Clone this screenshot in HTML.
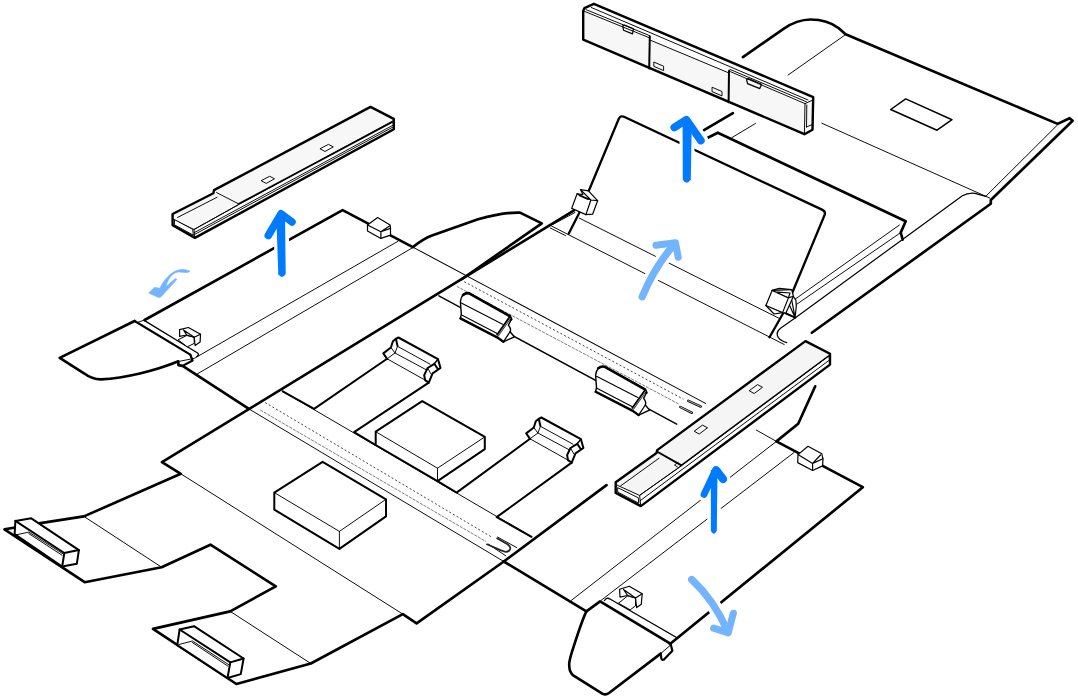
<!DOCTYPE html>
<html lang="en">
<head>
<meta charset="utf-8">
<title>Packaging illustration</title>
<style>
html,body{margin:0;padding:0;background:#fff;overflow:hidden}
svg{display:block}
.k{fill:none;stroke:#000;stroke-width:2.65;stroke-linejoin:round;stroke-linecap:round}
.kf{fill:#fff;stroke:#000;stroke-width:2.65;stroke-linejoin:round;stroke-linecap:round}
.m{fill:none;stroke:#000;stroke-width:1.5;stroke-linejoin:round;stroke-linecap:round}
.mf{fill:#fff;stroke:#000;stroke-width:1.5;stroke-linejoin:round;stroke-linecap:round}
.mg{fill:#f7f7f7;stroke:#000;stroke-width:1.5;stroke-linejoin:round;stroke-linecap:round}
.t{fill:none;stroke:#000;stroke-width:.95;stroke-linejoin:round;stroke-linecap:round}
.tf{fill:#fff;stroke:#000;stroke-width:.95;stroke-linejoin:round;stroke-linecap:round}
.tg{fill:#f7f7f7;stroke:#000;stroke-width:.95;stroke-linejoin:round;stroke-linecap:round}
.b{fill:none;stroke:#007aff;stroke-width:6.5;stroke-linejoin:round;stroke-linecap:round}
.lb{fill:none;stroke:#72b4ff;stroke-width:5;stroke-linejoin:round;stroke-linecap:round}
.h{fill:#fff;stroke:#000;stroke-width:2;stroke-linejoin:round;stroke-linecap:round}
.hl{fill:none;stroke:#000;stroke-width:2;stroke-linejoin:round;stroke-linecap:round}
.c{fill:#fff;stroke:#000;stroke-width:1.2;stroke-linejoin:round;stroke-linecap:round}
.cl{fill:none;stroke:#000;stroke-width:1.2;stroke-linejoin:round;stroke-linecap:round}
.d{fill:none;stroke:#3a3a3a;stroke-width:.95;stroke-dasharray:2 2.2}
.d2{fill:none;stroke:#666;stroke-width:.85;stroke-dasharray:3.2 1}
</style>
</head>
<body>
<svg width="1078" height="700" viewBox="0 0 1078 700">
<rect width="1078" height="700" fill="#fff"/>
<!--BAR1-->
<g id="bar1">
<path style="fill:#f7f7f7;stroke:none" d="M172.6 214 L213.4 193.3 L214 190.1 L370.5 106.9 L393.8 118.9 L393.8 129.2 L194.9 237.9 L172.6 225.3 Z"/>
<path class="tf" d="M393 121.2 L393.8 129.2 L194.9 237.9 L194 229.5 L237.9 205 Z"/>
<path d="M392.8 121.8 L237.9 204.3" style="stroke:#000;stroke-width:1.8;fill:none"/>
<path class="t" d="M393 125.2 L194.3 232.6"/>
<path class="t" d="M393 127 L194.3 234.6"/>
<path class="t" d="M216.6 192.6 L237.9 203.5"/>
<path class="t" d="M177.5 217.5 L217 197.3"/>
<path class="t" d="M172.6 219 L194 229.5 L237.9 205"/>
<path class="tf" d="M174.8 219.8 L192.6 229.3 L193.4 235.2 L174.8 225 Z"/>
<path class="tf" d="M320.3 148.6 L328.5 144.4 L333.3 146.9 L325.3 151.3 Z"/>
<path class="tf" d="M261.5 180.5 L269.7 176.3 L274.5 178.8 L266.5 183.2 Z"/>
<path class="k" style="fill:none;stroke-width:2.4" d="M172.6 214 L213.4 193.3 L214 190.1 L370.5 106.9 L393.8 118.9 L393.8 129.2 L194.9 237.9 L172.6 225.3 Z"/>
</g>
<!--/BAR1-->

<!--LEFTPANEL-->
<g id="leftpanel">
<path class="k" d="M134.6 321 L59.7 357.9 L84 373.3 Q92 379.5 101 379.4 C125 378 155 371 178.4 361.3 L178.4 365.1 L182.6 365.9 L248.9 408.9"/>
<path class="k" style="stroke-width:2.1" d="M134.6 321 L190.3 354.7"/>
<path class="k" style="stroke-width:2.2" d="M182.6 365.9 L192.6 360.5 L190.3 354.7"/>
<path class="k" d="M144.6 320 L342.6 210.1 L412.8 247.1 Q424 238.5 432 235.6 L478 219.2 Q505 212 520 212.6 L541.8 223.4 L462 279"/>
<path class="t" d="M138.4 322.1 L144.6 320"/>
<path class="m" style="stroke-width:1.3" d="M144.6 320.6 L197.6 353 Q199.6 354.6 196.7 356.7"/>
<path class="t" d="M180 361.2 L194.2 358.4 L397.7 241.4"/>
<path class="t" d="M196.7 374.3 L412.8 247.6"/>
</g>
<!--/LEFTPANEL-->
<!--CENTER-->
<g id="center">
<!-- main top-left edge and lower-left tabs outline -->
<path class="k" d="M573.7 210.6 L162 462.2 L180.8 473.8 L83.9 516.4 L38.8 523.4"/>
<path class="k" d="M15 527.5 L4.5 529.4 L84.7 582.2 L161.6 567.2 L210.4 544.7 L275.8 586.4 L230.2 611.4 L153 628.9 L236.4 684 L310.8 663.5 L402.8 614.1 L416.6 623.3 L503.8 561.5 L606.5 485.1"/>
<path class="t" d="M180.8 473.8 L402.8 614.1"/>
<path class="t" d="M83.9 516.4 L161.6 567.2"/>
<path class="t" d="M230.2 611.4 L310.8 663.5"/>
<!-- lower zipper strip -->
<path class="t" d="M248.9 408.9 L503.8 561.5"/>
<path class="t" d="M282.7 391.3 L531.5 536.8"/>
<path class="d" d="M265.2 402.6 L491.7 537.1"/>
<path class="d2" d="M260.2 410 L485.9 541.5"/>
<path class="t" d="M497.6 537.1 L516.8 547.6 M488.4 544.2 L505.9 555.9"/>
<path d="M497 538.3 L507.5 544.3 Q512 547.5 509.3 550.5 Q506.5 553 501.5 550.6 L487 544.3" style="fill:none;stroke:#222;stroke-width:1.7;stroke-linecap:round"/>

<!-- upper zipper strip -->
<path class="t" d="M412.8 247.1 L705.5 403.4" style="stroke-width:1.05"/>
<path class="m" d="M438.9 295.8 L676.7 424.2" style="stroke-width:1.4"/>
<path class="d" d="M464.2 281.7 L683.4 399.2"/>
<path class="d2" d="M456.7 286.3 L678.4 403.8"/>
<path d="M688.3 400.8 L700.8 406.6 M680.3 407 L692 412.8" style="fill:none;stroke:#000;stroke-width:2.4;stroke-linecap:round"/>
<path d="M688.3 400.8 L700.8 406.6 M680.3 407 L692 412.8" style="fill:none;stroke:#fff;stroke-width:.7;stroke-linecap:round"/>
<!-- straps -->
<path class="hl" d="M282.7 391.3 L314.1 408.9 L387.1 358.8"/>
<path class="hl" d="M428.8 382.6 L354.1 432.2 L375.7 445"/>
<path class="hl" d="M437.5 481.1 L456.6 492.6 L530 438.8"/>
<path class="hl" d="M571.7 462.6 L496.7 517.1 L531.5 536.8"/>
<!-- boxes -->
<path class="h" d="M322.6 461.8 L386 499.3 L386 516.4 L339.4 548.9 L274.3 509.6 L274.3 492.6 Z"/>
<path class="t" d="M274.3 492.6 L339.4 531.4 L386 499.3 M339.4 531.4 L339.4 548.9"/>
<path class="h" d="M422.2 401.1 L484.8 436.9 L484.8 449.1 L437.5 481.1 L375.7 445 L375.7 431.7 Z"/>
<path class="t" d="M375.7 431.7 L437.5 468.2 L484.8 436.9 M437.5 468.2 L437.5 481.1"/>
</g>
<!--/CENTER-->
<!--LOWRIGHT-->
<g id="lowright">
<path class="k" d="M503.8 561.5 L586.4 611.4 L600.1 601.4 L670.3 643.6"/>
<path class="k" d="M586.4 611.4 C582 620 576.5 638 572.1 651.4 C570 658 568.8 664 569.3 666.5 Q569.5 672.5 573.6 675.7 L602.3 693.6 Q605.7 695.4 609 693 L660.7 653.6"/>
<path class="k" style="stroke-width:2.2" d="M660.7 653.6 L661.4 658.6 Q662.3 660.6 664 659.6 L672.4 650.7 L670.7 644.3"/>
<path class="t" d="M670 645.5 L660.7 653.6"/>
<path class="k" d="M670 644 L862.8 487.2 L776.4 441.4 L798.2 423.8 L815.2 386.3"/>
<path class="m" style="stroke-width:1.4" d="M604.5 600.5 Q606.5 597 610 599 L676.5 637.5"/>
<path class="t" d="M571.4 600.3 L776.4 441.4"/>
<path class="t" d="M601.4 600.1 L793.9 452.6"/>
<path class="t" d="M756.4 430.1 L776.4 441.4"/>
</g>
<!--/LOWRIGHT-->
<!--BACK-->
<g id="back">
<!-- top-right flap -->
<path class="k" d="M742.9 57.1 L783.5 28.8 C792 23 801 19.6 810.5 19.5 C822 19.6 832 23 838.5 28 L845.6 34.2 L1057.6 123.9 L1069.6 118.2 L1072.6 120.8 L990.8 200 L990.8 203.8 L811.8 332.8"/>
<path class="t" d="M1057.4 125 L985.8 196.3"/>
<path class="t" d="M821.8 123.2 L989.6 198"/>
<path class="t" style="stroke-width:1.2" d="M985.8 196.3 L975 193.3 Q968 192.5 962 196 L903.2 238.9 L795.1 318 L780.5 328.2 Q775 332.5 778.4 337.6 Q781 341 786.7 342.6"/>
<path class="t" d="M845.6 34.6 L788 75.1"/>
<path class="t" d="M731.6 137.8 L755.4 123.5"/>
<path class="m" d="M905.7 98.9 L952 119.7 L937 130.2 L890.7 109.5 Z"/>
<!-- second panel -->
<path class="k" d="M707.8 137.8 L717.8 132.7 L905.7 221.3 L900.7 232.6 L902.7 239.6"/>
<path class="k" d="M704 130.2 L732.9 113.2"/>
<path class="t" d="M899.4 225 L795.1 299.2"/>
<path class="t" d="M900.7 232.6 L796.8 304.2"/>
<!-- back panel -->
<path class="kf" d="M568.8 233.6 L581 209.5 L618.7 119 Q620.3 115.2 624 116.8 L822 209.6 Q826 211.6 824.6 215 L785.3 309.5 L769.5 337.3" style="stroke-width:2.3"/>
<path class="t" d="M579.3 218.1 L779.2 318.4"/>
<path class="t" d="M551.4 226 L784.2 344.5"/>
<path class="t" d="M550.3 228 L565.5 235.6"/>
<path class="t" d="M575 212.5 L553.3 224.2"/>
<!-- gusset at right clip -->
<path class="cl" d="M793.4 296.7 L795.9 300 L796.3 306 L795.1 317.6 L788 302 M791.5 299 L795.1 317.6"/>
<path class="hl" d="M785.1 313 L795.1 317.6"/>
</g>
<!--/BACK-->
<!--HOLDERS-->
<g id="holders">
<g>
<path class="h" d="M463.4 294.6 Q466 292.5 469.2 293.3 L509.7 315.9 L511.4 319.2 L508.4 325.1 Q511.5 329 510.1 331.7 L514.3 336.8 L503.4 341.8 L497.6 337.6 L460.4 318.4 L461.3 314.2 L460.4 301.7 Q461 297 463.4 294.6 Z" style="stroke-width:1.4"/>
<path d="M463 295 Q466 292.6 469.2 293.4 L509.7 316 L511.2 319.4" style="fill:none;stroke:#000;stroke-width:2.65;stroke-linejoin:round;stroke-linecap:round"/>
<path d="M460.4 318.4 L497.6 337.6 L503.4 341.8" style="fill:none;stroke:#000;stroke-width:2.4;stroke-linejoin:round;stroke-linecap:round"/>
<path d="M510.2 317.2 L497.2 335.6" style="fill:none;stroke:#000;stroke-width:3"/>
<path d="M510.4 318 L497.6 336" style="fill:none;stroke:#fff;stroke-width:.6"/>
<path class="t" d="M461.3 303 L502.6 324.2 M461.7 315 L497.2 333.4" style="stroke-width:1.1"/>
<path class="t" d="M510.1 331.7 L503.4 341.8" style="stroke-width:1.2"/>
</g>
<g transform="translate(135.2 73.3)">
<path class="h" d="M463.4 294.6 Q466 292.5 469.2 293.3 L509.7 315.9 L511.4 319.2 L508.4 325.1 Q511.5 329 510.1 331.7 L514.3 336.8 L503.4 341.8 L497.6 337.6 L460.4 318.4 L461.3 314.2 L460.4 301.7 Q461 297 463.4 294.6 Z" style="stroke-width:1.4"/>
<path d="M463 295 Q466 292.6 469.2 293.4 L509.7 316 L511.2 319.4" style="fill:none;stroke:#000;stroke-width:2.65;stroke-linejoin:round;stroke-linecap:round"/>
<path d="M460.4 318.4 L497.6 337.6 L503.4 341.8" style="fill:none;stroke:#000;stroke-width:2.4;stroke-linejoin:round;stroke-linecap:round"/>
<path d="M510.2 317.2 L497.2 335.6" style="fill:none;stroke:#000;stroke-width:3"/>
<path d="M510.4 318 L497.6 336" style="fill:none;stroke:#fff;stroke-width:.6"/>
<path class="t" d="M461.3 303 L502.6 324.2 M461.7 315 L497.2 333.4" style="stroke-width:1.1"/>
<path class="t" d="M510.1 331.7 L503.4 341.8" style="stroke-width:1.2"/>
</g>
<g>
<path d="M398.4 337.5 L438 359.2 L440.5 368 L432.6 373.4 L428.8 382.6 L425.1 380.1 L387.1 358.8 L383.3 353.4 L390.9 347.5 L392.9 341.3 L395.9 338.8 Z" style="fill:#fff;stroke:none"/>
<path class="hl" d="M397.5 345.9 L395.9 338.8 L398.4 337.5 L438 359.2 L440.5 368 L432.6 373.4 L428.8 382.6 L425.1 380.1 L424.2 375.1 L427.6 368 L434.3 363.8 L437.5 368.5"/>
<path class="hl" d="M395.9 338.8 L392.9 341.3 L390.9 347.5 L383.3 353.4 L387.1 358.8"/>
<path class="hl" style="stroke-width:1.4" d="M438 359.2 L434.3 363.8"/>
<path class="t" d="M397.5 346.3 L430.1 364.2 M395 353 L425.9 369.6 M387.1 358.8 L425.1 380.1 M390.9 347.5 L395 353 L397.5 346.3 M395 353 L387.1 358.8 M427.6 368 L431 374"/>
</g>
<g transform="translate(142.9 80)">
<path d="M398.4 337.5 L438 359.2 L440.5 368 L432.6 373.4 L428.8 382.6 L425.1 380.1 L387.1 358.8 L383.3 353.4 L390.9 347.5 L392.9 341.3 L395.9 338.8 Z" style="fill:#fff;stroke:none"/>
<path class="hl" d="M397.5 345.9 L395.9 338.8 L398.4 337.5 L438 359.2 L440.5 368 L432.6 373.4 L428.8 382.6 L425.1 380.1 L424.2 375.1 L427.6 368 L434.3 363.8 L437.5 368.5"/>
<path class="hl" d="M395.9 338.8 L392.9 341.3 L390.9 347.5 L383.3 353.4 L387.1 358.8"/>
<path class="hl" style="stroke-width:1.4" d="M438 359.2 L434.3 363.8"/>
<path class="t" d="M397.5 346.3 L430.1 364.2 M395 353 L425.9 369.6 M387.1 358.8 L425.1 380.1 M390.9 347.5 L395 353 L397.5 346.3 M395 353 L387.1 358.8 M427.6 368 L431 374"/>
</g>
</g>
<!--/HOLDERS-->
<!--BAR2-->
<g id="bar2">
<path style="fill:#f7f7f7;stroke:none" d="M583.2 10.7 L584.4 8.2 L593.9 3.8 L813.2 97.1 L812.5 129.8 L804.4 134.2 L583.2 39.6 Z"/>
<path d="M593.9 3.8 L813.2 97.1 L805 103.6 L729.6 71.3 L729.4 73 L650.4 40.2 L650.2 38 L584 10.8 L584.4 8.2 Z" style="fill:#fff;stroke:none"/>
<path class="t" d="M591.3 7.5 L808 100 M584.4 11.3 L649.2 37.7 M586 9.6 L650 35.8 M650.4 40.2 L729 73 M729.6 71.3 L805 103.6 M730 69.4 L806.5 101.8 M805 103.6 L812.5 100.2 M805 103.6 L804.4 134.2 M806.5 127 L812.3 124.5 M806.5 127 L806.8 105"/>
<path class="hl" d="M649.8 36.5 L649.2 68.5 M729 70.7 L728.6 102.2"/>
<path class="k" style="stroke-width:2.4" d="M583.2 10.7 L584.4 8.2 L593.9 3.8 L813.2 97.1 L812.5 129.8 L804.4 134.2 L583.2 39.6 Z"/>
<path class="tg" d="M654.2 62.2 L663.6 66.2 L663.6 70.6 L654.2 66.5 Z M712.4 87.4 L722 91.5 L722 95.9 L712.4 91.8 Z"/>
<path class="cl" d="M622.8 25.8 L624.5 25 L633.4 28.8 L632.5 33.9 L623.5 30.2 Z M746.6 79.5 L748.5 78.6 L761.6 84.2 L759.8 88.6 L747.5 83.6 Z"/>
</g>
<!--/BAR2-->
<!--BAR3-->
<g id="bar3">
<path style="fill:#f5f5f5;stroke:none" d="M615.7 482.2 L656.5 453 L657.2 450.1 L805.5 341.1 L830 353.7 L830 364.6 L640.8 506.1 L615.7 492.9 Z"/>
<path class="tf" d="M829 356.2 L830 364.6 L640.8 506.1 L639.6 495.4 L681 466 Z"/>
<path d="M828.8 355.8 L681 465.6" style="stroke:#000;stroke-width:1.4;fill:none"/>
<path class="t" d="M829 360.4 L640 500.8"/>
<path class="hl" d="M657.8 452 L681 465.2"/>
<path class="t" d="M620.5 486 L659 458.2 M615.7 484.5 L639.6 495.4 L681 466 M678 462.5 L674.5 465 L677.5 467"/>
<path class="tf" d="M618 487.8 L638.3 497.8 L638.8 503.2 L618 492.2 Z"/>
<path class="tg" d="M749.5 390.5 L757.5 384.6 L762.5 387.3 L754.5 393.3 Z M694.5 431 L702.5 425.1 L707.5 427.8 L699.5 433.8 Z"/>
<path class="k" style="stroke-width:2.4" d="M615.7 482.2 L656.5 453 L657.2 450.1 L805.5 341.1 L830 353.7 L830 364.6 L640.8 506.1 L615.7 492.9 Z"/>
</g>
<!--/BAR3-->
<!--CLIPS-->
<g id="clips">
<!-- clip1 -->
<path class="c" d="M367.5 225 L377.6 217.5 L390.1 225 L390.5 228.4 L390.5 235.1 L380.9 238.4 L367.5 230.9 Z"/>
<path class="cl" d="M367.5 225 L380.9 231.7 L390.5 228.4 M380.9 231.7 L380.9 238.4 M380.9 231.7 L389.5 226"/>
<!-- clip5 -->
<path class="c" d="M798 454.6 L808 446.3 L821.8 453.8 L823 458.8 L822.6 465.9 L812.6 470.5 L797.7 462.6 Z"/>
<path class="cl" d="M798 454.6 L812.6 463.4 L823 458.8 M812.6 463.4 L812.6 470.5 M812.6 463.4 L820.5 455"/>
<!-- clip3 cube -->
<path class="c" d="M580.5 189.6 L588.4 190.9 L597.6 200.7 L592.6 214.2 L585.9 214.6 L571.7 208.4 L577.1 193.8 L583 194.5 Z"/>
<path class="cl" d="M577.1 193.8 L590.9 200 L585.9 214.6 M590.9 200 L597.6 200.7 M580.5 189.6 L590.9 200 M579 195.5 L588 199.5"/>
<!-- clip4 cube -->
<path class="c" d="M772.1 290.4 L779.2 288.3 L791.7 289.6 L793.4 296.3 L785.9 313 L782.6 312.6 L765.9 305.5 Z"/>
<path class="cl" d="M772.1 290.4 L788.4 297.9 L782.6 312.6 M788.4 297.9 L793.4 296.3 M772.1 290.4 L791.7 289.6 M775 291.8 L790 293 L788.4 297.9 M765.9 305.5 L774 314 L782.6 312.6"/>
<!-- clip2 hook -->
<path class="c" d="M178.4 339.6 L186.7 335.5 L194.2 337.3 L194.2 343.4 L187.6 346.7 Z" style="stroke-width:1"/>
<path class="c" d="M179.6 329.6 L188.4 327.5 L200.5 334.2 L200.1 342.1 L195.1 345.5 L194.2 337.3 L186.7 335 L179.6 336.3 Z"/>
<path class="cl" d="M183.5 330 L194.2 337.3 L200.5 334.2 M183.5 330 L186.7 335"/>
<!-- clip6 hook -->
<path class="c" d="M618.8 603 L627.6 595.9 L635.5 598 L635.5 605.9 L630.5 609.6 Z" style="stroke-width:1"/>
<path class="c" d="M619.6 589.2 L629.2 586.3 L642.2 593.8 L641.3 604.2 L636.7 607.6 L635.5 598 L627.6 595.5 L620 597.1 Z"/>
<path class="cl" d="M623.5 589.5 L635.5 598 L642.2 593.8 M623.5 589.5 L627.6 595.5"/>
</g>
<!--/CLIPS-->
<!--SMALLBARS-->
<g id="smallbars">
<path class="h" d="M15.4 520.9 L31.3 518.3 L78.9 550.1 L76.8 563.8 L62.2 566.5 L14.6 534.2 Z"/>
<path class="hl" d="M15.4 520.9 L64.3 553 L78.9 550.1 M64.3 553 L62.2 566.5"/>
<path class="t" d="M15.4 535 L28.8 532.1 L62.6 553.6 M28.8 533.6 L62 555.2"/>
<path class="h" d="M179.6 629.5 L194 626.2 L243.6 658.5 L240.8 674.1 L227.5 678 L177.3 645.1 Z"/>
<path class="hl" d="M179.6 629.5 L230.3 662.4 L243.6 658.5 M230.3 662.4 L227.5 678"/>
<path class="t" d="M179 644.5 L192.4 641 L228.6 664.6 M192.4 642.5 L228 666.2"/>
</g>
<!--/SMALLBARS-->
<!--ARROWS-->
<g id="arrows">
<!-- white halos -->
<g style="fill:none;stroke:#fff;stroke-width:15;stroke-linejoin:round;stroke-linecap:round">
<path d="M268.3 235.5 L281 213.8 L292 222 M281.3 216 L282 274"/>
<path d="M674.3 127.5 L686.3 119.8 L700.8 140.5 M687 122 L687 180.5"/>
<path d="M704 494.5 L715.8 469.5 L723.5 479 M714.3 472 L713.9 531.5" style="stroke-width:13.5"/>
<path d="M642.2 296.8 Q655 266 675 243.5" style="stroke-width:14.5"/>
<path d="M691.7 579.5 Q714 600 727.5 631" style="stroke-width:14.5"/>
<path d="M187 271.5 Q168 272 160 291" style="stroke-width:9"/>
</g>
<!-- arrow 1 -->
<path class="b" style="stroke-width:7.6" d="M268.3 235.5 L281 213.8 L292 222"/>
<path d="M276.3 216 L285 216 L285.7 274 Q282.2 279.6 278.3 274.3 Z" style="fill:#007aff"/>
<!-- arrow 2 -->
<path class="b" style="stroke-width:7.8" d="M674.3 127.5 L686.3 119.8 L700.8 140.5"/>
<path d="M682.6 121 L691.8 121 L690.8 179.6 Q687 185.6 682.8 180 Z" style="fill:#007aff"/>
<!-- arrow 3 -->
<path class="b" style="stroke-width:6.8" d="M704 494.5 L715.8 469.5 L723.5 479.3"/>
<path class="b" style="stroke-width:8" d="M716.5 470.5 L723 479"/>
<path d="M710.8 470 L717.5 470 L716.8 530.6 Q714 536.6 710.9 531 Z" style="fill:#007aff"/>
<!-- light arrow 1 (top-left swoosh) -->
<path d="M189.8 271.3 C187 269.5 182 269.2 178.6 270 C172 271.5 167 277 162.5 283.2 L159.9 288.3 L154.5 287.3 L148.7 293.1 L158.6 297.6 Q160.5 297.5 161.9 296 L177 279.3 Q176 278.3 174.7 279 L166.4 286.4 C167 281 170 276.5 174 273.6 C178 271 182 272.5 185 272.6 C187 272.7 189 272.5 189.8 271.3 Z" style="fill:#72b4ff;stroke:#72b4ff;stroke-width:.6;stroke-linejoin:round"/>
<!-- light arrow 2 -->
<path class="lb" style="stroke-width:7.3" d="M642.2 296.8 Q655 266 675 243.5"/>
<path class="lb" style="stroke-width:7" d="M656 245.3 L675.5 242.8 L678.2 257.2"/>
<!-- light arrow 4 -->
<path class="lb" style="stroke-width:7.3" d="M691.7 579.5 Q714 600 727.5 631"/>
<path class="lb" style="stroke-width:7" d="M713.6 628.2 L728.2 632.8 L733.4 613.2"/>
</g>
<!--/ARROWS-->
<!--END-->
</svg>
</body>
</html>
